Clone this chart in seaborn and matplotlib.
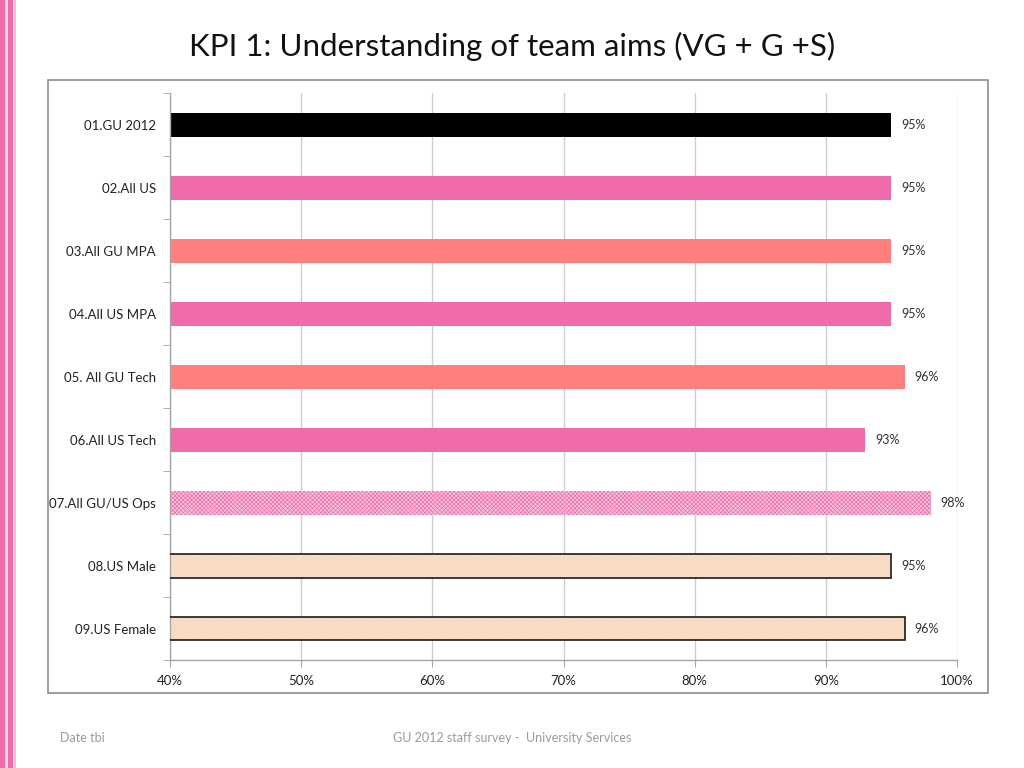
import matplotlib
matplotlib.use('Agg')
import matplotlib.pyplot as plt
from matplotlib.patches import Rectangle
from matplotlib.ticker import FuncFormatter, MultipleLocator
import seaborn as sns
import pandas as pd

sns.set_style('white')
plt.rcParams['font.family'] = ['Lato', 'DejaVu Sans']
plt.rcParams['hatch.linewidth'] = 0.5

groups = ['01.GU 2012', '02.All US', '03.All GU MPA', '04.All US MPA', '05. All GU Tech',
          '06.All US Tech', '07.All GU/US Ops', '08.US Male', '09.US Female']
values = [95, 95, 95, 95, 96, 93, 98, 95, 96]
bar_colors = ['#000000', '#EF6BAA', '#FF7F7F', '#EF6BAA', '#FF7F7F',
              '#EF6BAA', '#F9C6DE', '#FBE4D2', '#FBE4D2']

df = pd.DataFrame({'group': groups, 'value': values})

fig = plt.figure(figsize=(10.24, 7.68), dpi=100)
ax = fig.add_axes([0.166, 0.1406, 0.7686, 0.738])

sns.barplot(data=df, x='value', y='group', hue='group', palette=bar_colors,
            orient='h', width=0.38, legend=False, ax=ax, saturation=1)

for i, patch in enumerate(ax.patches):
    patch.set_linewidth(0)
    if groups[i].startswith('07'):
        patch.set_hatch('xxxxxxxx')
        patch.set_edgecolor('#EF6BAA')
        patch.set_linewidth(0)
    elif groups[i].startswith('08') or groups[i].startswith('09'):
        patch.set_hatch('//////////')
        patch.set_edgecolor('#F4C8A6')
        outline = Rectangle(patch.get_xy(), patch.get_width(), patch.get_height(),
                            fill=False, edgecolor='#1a1a1a', linewidth=1.2, zorder=3)
        ax.add_patch(outline)

for i, v in enumerate(values):
    ax.annotate(f'{v}%', xy=(v, i), xytext=(7, 0), textcoords='offset points',
                va='center', ha='left', fontsize=9, color='#333333')

ax.set_xlim(40, 100)
ax.set_ylim(8.5, -0.5)
ax.xaxis.set_major_locator(MultipleLocator(10))
ax.xaxis.set_major_formatter(FuncFormatter(lambda x, p: f'{int(x)}%'))
ax.set_xlabel('')
ax.set_ylabel('')
ax.grid(axis='x', color='#CCCCCC', linewidth=1)
ax.set_axisbelow(True)
for side in ['top', 'right']:
    ax.spines[side].set_visible(False)
for side in ['left', 'bottom']:
    ax.spines[side].set_color('#A6A6A6')
    ax.spines[side].set_linewidth(1)
ax.set_yticks([i - 0.5 for i in range(len(groups) + 1)], minor=True)
ax.tick_params(axis='y', which='major', length=0, labelsize=9.5, pad=10, labelcolor='#222222')
ax.tick_params(axis='y', which='minor', length=5, color='#A6A6A6', direction='out', left=True)
ax.tick_params(axis='x', which='major', length=5, color='#A6A6A6', direction='out', bottom=True,
               labelsize=9.5, labelcolor='#222222', pad=6)

fig.text(0.5, 0.94, 'KPI 1: Understanding of team aims (VG + G +S)', ha='center', va='center',
         fontsize=22.5, color='#111111')

fig.patches.append(Rectangle((48 / 1024, 1 - 693 / 768), 940 / 1024, 613 / 768,
                             transform=fig.transFigure, fill=False, edgecolor='#8C8C8C',
                             linewidth=1.2, zorder=0))
fig.patches.append(Rectangle((0, 0), 5 / 1024, 1, transform=fig.transFigure,
                             facecolor='#EF6BAA', edgecolor='none'))
fig.patches.append(Rectangle((5 / 1024, 0), 3 / 1024, 1, transform=fig.transFigure,
                             facecolor='#FAD3E4', edgecolor='none'))
fig.patches.append(Rectangle((8 / 1024, 0), 5 / 1024, 1, transform=fig.transFigure,
                             facecolor='#EF6BAA', edgecolor='none'))
fig.patches.append(Rectangle((14 / 1024, 0), 1.5 / 1024, 1, transform=fig.transFigure,
                             facecolor='#F7BCD5', edgecolor='none'))

fig.text(60 / 1024, 1 - 738 / 768, 'Date tbi', ha='left', va='center', fontsize=9, color='#9A9A9A')
fig.text(512 / 1024, 1 - 738 / 768, 'GU 2012 staff survey -  University Services', ha='center',
         va='center', fontsize=9, color='#9A9A9A')

fig.savefig('out.png', dpi=100)
